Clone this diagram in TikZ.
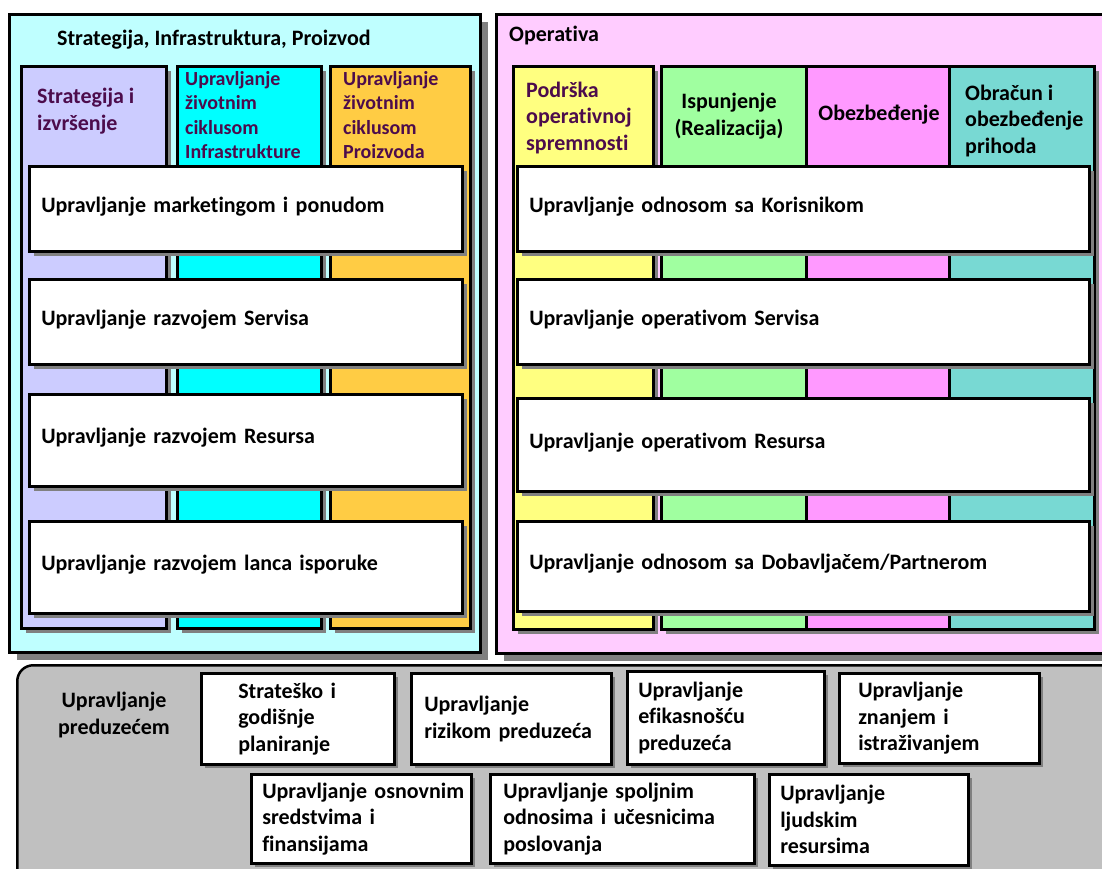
\documentclass[tikz,border=0pt]{standalone}
\usepackage{fontspec}
\setmainfont{Carlito}[Ligatures=CommonOff]
\usetikzlibrary{shadows}
\definecolor{leftbg}{HTML}{BFFFFF}
\definecolor{rightbg}{HTML}{FFCCFF}
\definecolor{purplecol}{HTML}{CCCCFF}
\definecolor{cyancol}{HTML}{00FFFF}
\definecolor{orangecol}{HTML}{FFCC44}
\definecolor{yellowcol}{HTML}{FFFF80}
\definecolor{greencol}{HTML}{A0FFA0}
\definecolor{pinkcol}{HTML}{FF99FF}
\definecolor{tealcol}{HTML}{78D9D3}
\definecolor{entgray}{HTML}{C0C0C0}
\definecolor{shadowgray}{HTML}{808080}
\definecolor{darkpurple}{HTML}{4C0C4C}
\begin{document}
\begin{tikzpicture}[x=1pt,y=-1pt,
  every node/.style={font=\bfseries\fontsize{22}{26.8}\selectfont},
  smallfont/.style={font=\bfseries\fontsize{20}{24.5}\selectfont},
  sh/.style={general shadow={shadow xshift=#1pt, shadow yshift=-#1pt, fill=shadowgray}},
  frame/.style={draw=black, line width=2.5pt, rectangle, anchor=north west, inner sep=0pt},
  txt/.style={inner sep=0pt, align=left, anchor=west},
  coltxt/.style={txt, text=darkpurple},
  wbox/.style={frame, fill=white, sh=5, align=left, inner xsep=12pt, text depth=8pt},
  bbox/.style={frame, fill=white, sh=4, align=left, inner xsep=2pt, font=\bfseries\fontsize{22}{26.5}\selectfont}
]
\useasboundingbox (0,0) rectangle (1102,868);
\clip (0,0) rectangle (1102,868);

% ---------------- left group ----------------
\node[frame, fill=leftbg, sh=8, minimum width=471pt, minimum height=638pt] (spi) at (8,13) {};
\node[txt] (spit) at (57,40) {Strategija, Infrastruktura, Proizvod};

\node[frame, fill=purplecol, sh=5, minimum width=145pt, minimum height=562pt] (c1) at (20,65) {};
\node[frame, fill=cyancol, sh=5, minimum width=144pt, minimum height=562pt] (c2) at (176,65) {};
\node[frame, fill=orangecol, sh=5, minimum width=140pt, minimum height=562pt] (c3) at (329,65) {};
\node[coltxt] (c1t) at (37,111) {Strategija i\\izvršenje};
\node[coltxt, smallfont] (c2t) at (185,115) {Upravljanje\\životnim\\ciklusom\\Infrastrukture};
\node[coltxt, smallfont] (c3t) at (343,115) {Upravljanje\\životnim\\ciklusom\\Proizvoda};

\node[wbox, minimum width=433pt, minimum height=85pt, text width=409pt] (l1) at (28,165) {Upravljanje marketingom i ponudom};
\node[wbox, minimum width=433pt, minimum height=85pt, text width=409pt] (l2) at (28,278) {Upravljanje razvojem Servisa};
\node[wbox, minimum width=433pt, minimum height=92pt, text width=409pt] (l3) at (28,393) {Upravljanje razvojem Resursa};
\node[wbox, minimum width=433pt, minimum height=92pt, text width=409pt] (l4) at (28,520) {Upravljanje razvojem lanca isporuke};

% ---------------- right group ----------------
\node[frame, fill=rightbg, sh=8, minimum width=614pt, minimum height=639pt] (op) at (495,13) {};
\node[txt] (opt) at (509,36) {Operativa};

\node[frame, fill=yellowcol, sh=5, minimum width=140pt, minimum height=563pt] (r1) at (512,65) {};
\node[frame, fill=greencol, sh=5, minimum width=145pt, minimum height=563pt] (r2) at (660,65) {};
\node[frame, fill=pinkcol, sh=5, minimum width=143pt, minimum height=563pt] (r3) at (805,65) {};
\node[frame, fill=tealcol, sh=5, minimum width=145pt, minimum height=563pt] (r4) at (948,65) {};
\node[coltxt] (r1t) at (526,118) {Podrška\\operativnoj\\spremnosti};
\node[txt, align=center, anchor=center] (r2t) at (729,116) {Ispunjenje\\(Realizacija)};
\node[txt, anchor=center] (r3t) at (879,115) {Obezbeđenje};
\node[txt] (r4t) at (965,121) {Obračun i\\obezbeđenje\\prihoda};

\node[wbox, minimum width=572pt, minimum height=85pt, text width=548pt] (o1) at (516,165) {Upravljanje odnosom sa Korisnikom};
\node[wbox, minimum width=572pt, minimum height=85pt, text width=548pt] (o2) at (516,278) {Upravljanje operativom Servisa};
\node[wbox, minimum width=572pt, minimum height=93pt, text width=548pt] (o3) at (516,397) {Upravljanje operativom Resursa};
\node[wbox, minimum width=572pt, minimum height=90pt, text width=548pt] (o4) at (516,520) {Upravljanje odnosom sa Dobavljačem/Partnerom};

% ---------------- enterprise ----------------
\node[frame, fill=entgray, rounded corners=16pt, minimum width=1110pt, minimum height=240pt] (ent) at (16,664) {};
\node[txt, align=center, anchor=center, font=\bfseries\fontsize{22}{26.5}\selectfont] (entt) at (114,715) {Upravljanje\\preduzećem};

\node[bbox, minimum width=193pt, minimum height=91pt, text width=189pt] (e1) at (200,672) {\leftskip=35pt Strateško i\\godišnje\\planiranje\par};
\node[bbox, minimum width=200pt, minimum height=91pt, text width=196pt] (e2) at (410,672) {\leftskip=11pt Upravljanje\\rizikom preduzeća\par};
\node[bbox, minimum width=197pt, minimum height=93pt, text width=193pt] (e3) at (626,670) {\leftskip=9pt Upravljanje\\efikasnošću\\preduzeća\par};
\node[bbox, minimum width=200pt, minimum height=90pt, text width=196pt] (e4) at (838,672) {\leftskip=17pt Upravljanje\\znanjem i\\istraživanjem\par};
\node[bbox, minimum width=220pt, minimum height=89pt, text width=216pt] (e5) at (250,773) {\leftskip=9pt Upravljanje~osnovnim\\sredstvima i\\finansijama\par};
\node[bbox, minimum width=264pt, minimum height=89pt, text width=260pt] (e6) at (489,773) {\leftskip=11pt Upravljanje~spoljnim\\odnosima~i~učesnicima\\poslovanja\par};
\node[bbox, minimum width=199pt, minimum height=91pt, text width=195pt] (e7) at (768,773) {\leftskip=9pt Upravljanje\\ljudskim\\resursima\par};
\end{tikzpicture}
\end{document}
